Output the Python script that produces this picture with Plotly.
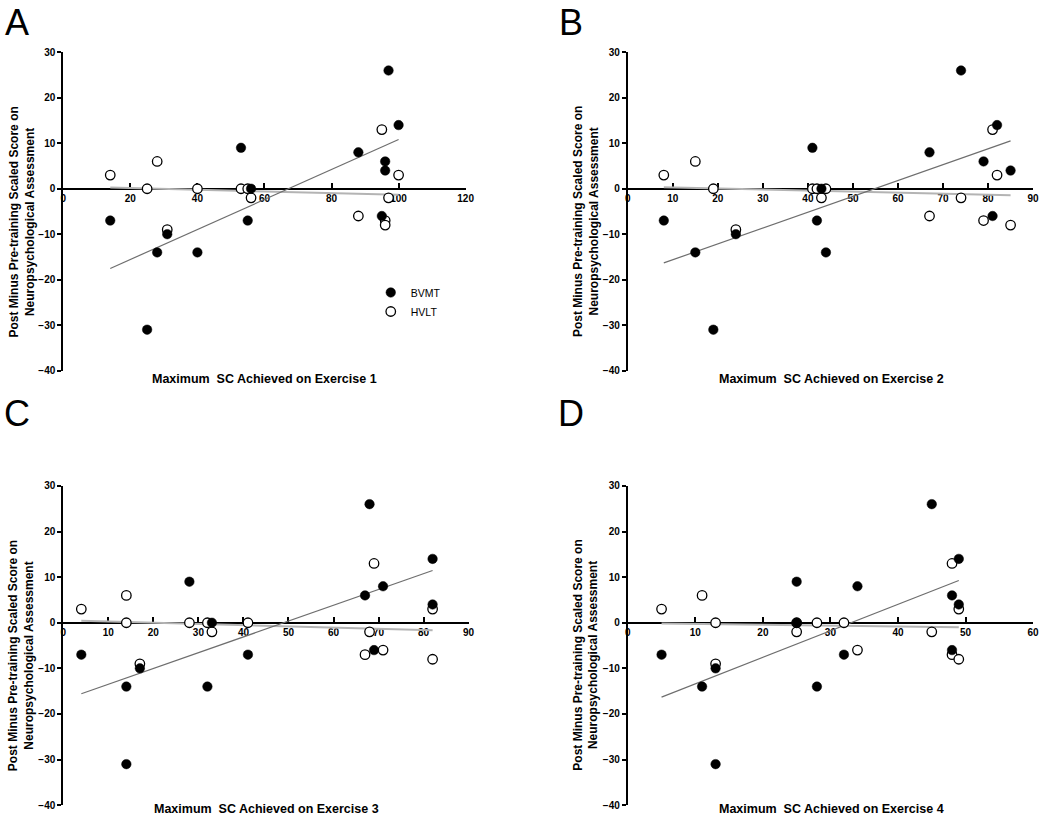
import numpy as np
import plotly.graph_objects as go

W, H = 1050, 824

# ---------------- data ----------------
# Panel A - Exercise 1
ex1_bvmt_x = [14, 25, 28, 31, 40, 53, 55, 56, 88, 95, 96, 96, 97, 100]
ex1_bvmt_y = [-7, -31, -14, -10, -14, 9, -7, 0, 8, -6, 6, 4, 26, 14]
ex1_hvlt_x = [14, 25, 28, 31, 40, 53, 55, 56, 88, 95, 96, 96, 97, 100]
ex1_hvlt_y = [3, 0, 6, -9, 0, 0, 0, -2, -6, 13, -7, -8, -2, 3]

# Panel B - Exercise 2
ex2_bvmt_x = [8, 15, 19, 24, 41, 42, 43, 44, 67, 74, 79, 81, 82, 85]
ex2_bvmt_y = [-7, -14, -31, -10, 9, -7, 0, -14, 8, 26, 6, -6, 14, 4]
ex2_hvlt_x = [8, 15, 19, 24, 41, 42, 43, 44, 67, 74, 79, 81, 82, 85]
ex2_hvlt_y = [3, 6, 0, -9, 0, 0, -2, 0, -6, -2, -7, 13, 3, -8]

# Panel C - Exercise 3
ex3_bvmt_x = [4, 14, 14, 17, 28, 32, 33, 41, 67, 68, 69, 71, 82, 82]
ex3_bvmt_y = [-7, -31, -14, -10, 9, -14, 0, -7, 6, 26, -6, 8, 14, 4]
ex3_hvlt_x = [4, 14, 14, 17, 28, 32, 33, 41, 67, 68, 69, 71, 82, 82]
ex3_hvlt_y = [3, 6, 0, -9, 0, 0, -2, 0, -7, -2, 13, -6, 3, -8]

# Panel D - Exercise 4
ex4_bvmt_x = [5, 11, 13, 13, 25, 25, 28, 32, 34, 45, 48, 48, 49, 49]
ex4_bvmt_y = [-7, -14, -31, -10, 9, 0, -14, -7, 8, 26, 6, -6, 14, 4]
ex4_hvlt_x = [5, 11, 13, 13, 25, 25, 28, 32, 34, 45, 48, 48, 49, 49]
ex4_hvlt_y = [3, 6, 0, -9, -2, 0, 0, 0, -6, -2, 13, -7, 3, -8]

panel_letters = ["A", "B", "C", "D"]
x_titles = ["Maximum  SC Achieved on Exercise 1", "Maximum  SC Achieved on Exercise 2",
            "Maximum  SC Achieved on Exercise 3", "Maximum  SC Achieved on Exercise 4"]
y_title = "Post Minus Pre-training Scaled Score on<br>Neuropsychological Assessment"
x_ranges = [[0, 120], [0, 90], [0, 90], [0, 60]]
x_dticks = [20, 10, 10, 10]
y_range = [-40, 30]
y_dtick = 10

data = [
    (ex1_bvmt_x, ex1_bvmt_y, ex1_hvlt_x, ex1_hvlt_y),
    (ex2_bvmt_x, ex2_bvmt_y, ex2_hvlt_x, ex2_hvlt_y),
    (ex3_bvmt_x, ex3_bvmt_y, ex3_hvlt_x, ex3_hvlt_y),
    (ex4_bvmt_x, ex4_bvmt_y, ex4_hvlt_x, ex4_hvlt_y),
]

# ---------------- layout geometry (pixels) ----------------
# plot boxes: (left, right, top, bottom) in px
boxes = [
    (61, 468, 47, 370),
    (632, 1042, 47, 370),
    (61, 471, 487, 811),
    (632, 1042, 487, 811),
]
letter_pos = [(14, 17), (575, 17), (14, 414), (575, 414)]
ytitle_pos = [(19, 219), (590, 219), (19, 659), (590, 659)]
xtitle_pos = [(265, 379), (838, 379), (267, 815), (838, 815)]

FONT = "Liberation Sans, Arial, sans-serif"

fig = go.Figure()
layout = dict(
    width=W, height=H, autosize=False,
    margin=dict(l=0, r=0, t=0, b=0, pad=0),
    paper_bgcolor="white", plot_bgcolor="white",
    showlegend=True,
    font=dict(family=FONT, color="black"),
)
annotations = []


def fit_line(x, y):
    x = np.asarray(x, float)
    y = np.asarray(y, float)
    m, b = np.polyfit(x, y, 1)
    xs = np.array([x.min(), x.max()])
    return xs, m * xs + b


for i, (bx, by, hx, hy) in enumerate(data):
    n = "" if i == 0 else str(i + 1)
    xa, ya = "x" + n, "y" + n
    l, r, t, btm = boxes[i]
    ydom = [1 - btm / H, 1 - t / H]
    xdom = [l / W, r / W]
    zero_pos = ydom[0] + (0 - y_range[0]) / (y_range[1] - y_range[0]) * (ydom[1] - ydom[0])

    # trend lines
    lx, ly = fit_line(hx, hy)
    fig.add_trace(go.Scatter(x=lx, y=ly, mode="lines", xaxis=xa, yaxis=ya,
                             line=dict(color="#b4b4b4", width=2), showlegend=False,
                             hoverinfo="skip"))
    lx, ly = fit_line(bx, by)
    fig.add_trace(go.Scatter(x=lx, y=ly, mode="lines", xaxis=xa, yaxis=ya,
                             line=dict(color="#6e6e6e", width=1.2), showlegend=False,
                             hoverinfo="skip"))
    # HVLT open circles
    fig.add_trace(go.Scatter(x=hx, y=hy, mode="markers", xaxis=xa, yaxis=ya,
                             name="HVLT", legendrank=2, showlegend=(i == 0),
                             marker=dict(symbol="circle", size=9.5, color="white",
                                         line=dict(color="black", width=1.3))))
    # BVMT filled circles
    fig.add_trace(go.Scatter(x=bx, y=by, mode="markers", xaxis=xa, yaxis=ya,
                             name="BVMT", legendrank=1, showlegend=(i == 0),
                             marker=dict(symbol="circle", size=9.5, color="black",
                                         line=dict(color="black", width=0.5))))

    layout["xaxis" + n] = dict(
        domain=xdom, range=x_ranges[i], dtick=x_dticks[i], tick0=0,
        anchor="free", position=zero_pos, showgrid=False, zeroline=False,
        showline=True, linecolor="black", linewidth=2,
        ticks="inside", ticklen=5, tickwidth=1.5, tickcolor="black",
        tickfont=dict(family=FONT, size=10, color="black", weight="bold"),
        layer="below traces", fixedrange=True,
    )
    layout["yaxis" + n] = dict(
        domain=ydom, range=y_range, dtick=y_dtick, tick0=0,
        anchor=xa, showgrid=False, zeroline=False,
        showline=True, linecolor="black", linewidth=2,
        ticks="outside", ticklen=4, tickwidth=1.5, tickcolor="black",
        tickfont=dict(family=FONT, size=10, color="black", weight="bold"),
        fixedrange=True,
    )

    px_, py_ = letter_pos[i]
    annotations.append(dict(text=panel_letters[i], x=px_ / W, y=1 - py_ / H, xref="paper",
                            yref="paper", xanchor="center", yanchor="middle", showarrow=False,
                            font=dict(family=FONT, size=36, color="black")))
    px_, py_ = ytitle_pos[i]
    annotations.append(dict(text=y_title, x=px_ / W, y=1 - py_ / H, xref="paper",
                            yref="paper", xanchor="center", yanchor="middle", showarrow=False,
                            textangle=-90,
                            font=dict(family=FONT, size=12, color="black", weight="bold")))
    px_, py_ = xtitle_pos[i]
    annotations.append(dict(text=x_titles[i], x=px_ / W, y=1 - py_ / H, xref="paper",
                            yref="paper", xanchor="center", yanchor="middle", showarrow=False,
                            font=dict(family=FONT, size=12.5, color="black", weight="bold")))

layout["annotations"] = annotations
layout["legend"] = dict(x=372 / W, y=1 - 276 / H, xanchor="left", yanchor="top",
                        bgcolor="rgba(0,0,0,0)", borderwidth=0,
                        font=dict(family=FONT, size=10.5, color="black"),
                        itemwidth=30, tracegroupgap=0, traceorder="normal")
fig.update_layout(**layout)

fig.write_html("out.html", config={"displayModeBar": False},
               post_script="document.body.style.margin='0';document.body.style.padding='0';"
                           "document.documentElement.style.overflow='hidden';")
